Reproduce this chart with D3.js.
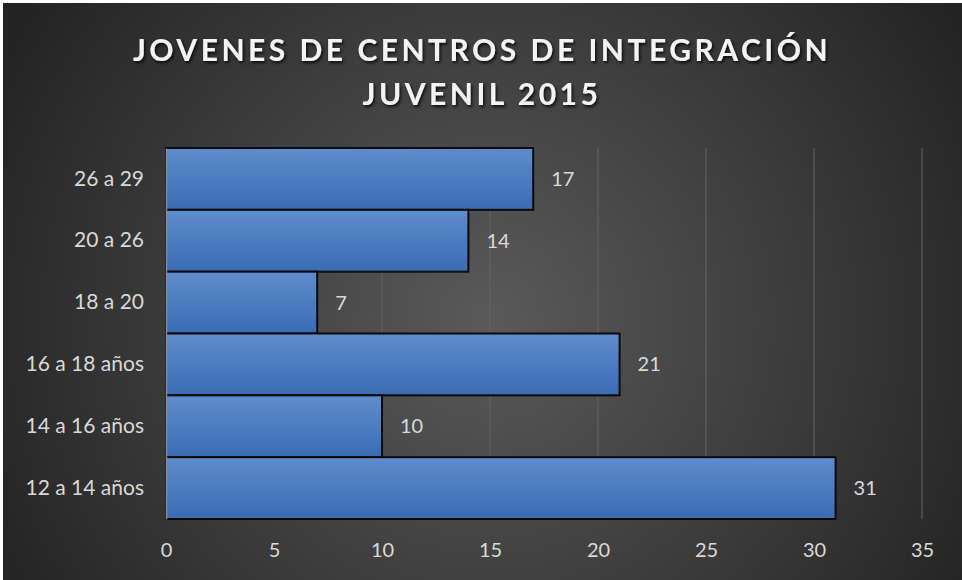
<!DOCTYPE html>
<html>
<head>
<meta charset="utf-8">
<script src="https://cdn.jsdelivr.net/npm/d3@7"></script>
<style>
  html, body { margin: 0; padding: 0; background: #ffffff; }
  svg { display: block; }
  text { font-family: Lato, "Open Sans", sans-serif; }
</style>
</head>
<body>
<svg id="chart" width="962" height="580"></svg>
<script>
const categories = ["26 a 29", "20 a 26", "18 a 20", "16 a 18 años", "14 a 16 años", "12 a 14 años"];
const values = [17, 14, 7, 21, 10, 31];
const xTicks = [0, 5, 10, 15, 20, 25, 30, 35];
const titleLines = ["JOVENES DE CENTROS DE INTEGRACIÓN", "JUVENIL 2015"];

const svg = d3.select("#chart");
const W = 962, H = 580;

const margin = { top: 148, right: 40, bottom: 61, left: 166 };
const width = W - margin.left - margin.right;
const height = H - margin.top - margin.bottom;

const defs = svg.append("defs");

const bg = defs.append("radialGradient")
    .attr("id", "bg")
    .attr("gradientUnits", "userSpaceOnUse")
    .attr("cx", 490).attr("cy", 320).attr("r", 560);
bg.append("stop").attr("offset", "0%").attr("stop-color", "#5a5a5a");
bg.append("stop").attr("offset", "100%").attr("stop-color", "#232323");

const barGrad = defs.append("linearGradient")
    .attr("id", "bar")
    .attr("x1", 0).attr("y1", 0).attr("x2", 0).attr("y2", 1);
barGrad.append("stop").attr("offset", "0%").attr("stop-color", "#5f8ccc");
barGrad.append("stop").attr("offset", "100%").attr("stop-color", "#3a6cb4");

const shadow = defs.append("filter").attr("id", "shadow")
    .attr("x", "-10%").attr("y", "-30%").attr("width", "120%").attr("height", "160%");
shadow.append("feDropShadow")
    .attr("dx", 1.5).attr("dy", 2).attr("stdDeviation", 1.5)
    .attr("flood-color", "#000").attr("flood-opacity", 0.8);

svg.append("rect")
    .attr("x", 3).attr("y", 3)
    .attr("width", W - 3).attr("height", H - 3)
    .attr("fill", "url(#bg)");

// title
svg.selectAll(".title")
    .data(titleLines)
    .join("text")
    .attr("class", "title")
    .attr("x", 482)
    .attr("y", (d, i) => 61 + i * 44)
    .attr("text-anchor", "middle")
    .attr("font-size", 30)
    .attr("font-weight", "bold")
    .attr("letter-spacing", 3.5)
    .attr("fill", "#f4f4f4")
    .attr("filter", "url(#shadow)")
    .text(d => d);

const x = d3.scaleLinear().domain([0, 35]).range([0, width]);
const y = d3.scaleBand().domain(categories).range([0, height]).padding(0);

const chartArea = svg.append("g")
    .attr("transform", `translate(${margin.left},${margin.top})`);

// gridlines
chartArea.selectAll(".grid")
    .data(xTicks.slice(1))
    .join("line")
    .attr("class", "grid")
    .attr("x1", d => x(d)).attr("x2", d => x(d))
    .attr("y1", 0).attr("y2", height)
    .attr("stroke", "#646464")
    .attr("stroke-width", 1);

// bars
chartArea.selectAll(".bar")
    .data(values)
    .join("rect")
    .attr("class", "bar")
    .attr("x", 0)
    .attr("y", (d, i) => y(categories[i]))
    .attr("width", d => x(d))
    .attr("height", y.bandwidth())
    .attr("fill", "url(#bar)")
    .attr("stroke", "#0a0a0a")
    .attr("stroke-width", 2);

// value labels
chartArea.selectAll(".value")
    .data(values)
    .join("text")
    .attr("class", "value")
    .attr("x", d => x(d) + 18)
    .attr("y", (d, i) => y(categories[i]) + y.bandwidth() / 2)
    .attr("dy", "0.35em")
    .attr("font-size", 20)
    .attr("fill", "#d9d9d9")
    .text(d => d);

// y axis
const yAxis = chartArea.append("g")
    .call(d3.axisLeft(y).tickSize(0).tickPadding(22));
yAxis.select(".domain").attr("stroke", "#8c8c8c").attr("stroke-width", 1.5);
yAxis.selectAll("text")
    .attr("font-size", 21)
    .attr("fill", "#d9d9d9");

// x axis
const xAxis = chartArea.append("g")
    .attr("transform", `translate(0,${height})`)
    .call(d3.axisBottom(x).tickValues(xTicks).tickSize(0).tickPadding(24));
xAxis.select(".domain").remove();
xAxis.selectAll("text")
    .attr("font-size", 20)
    .attr("fill", "#d9d9d9");
</script>
</body>
</html>
